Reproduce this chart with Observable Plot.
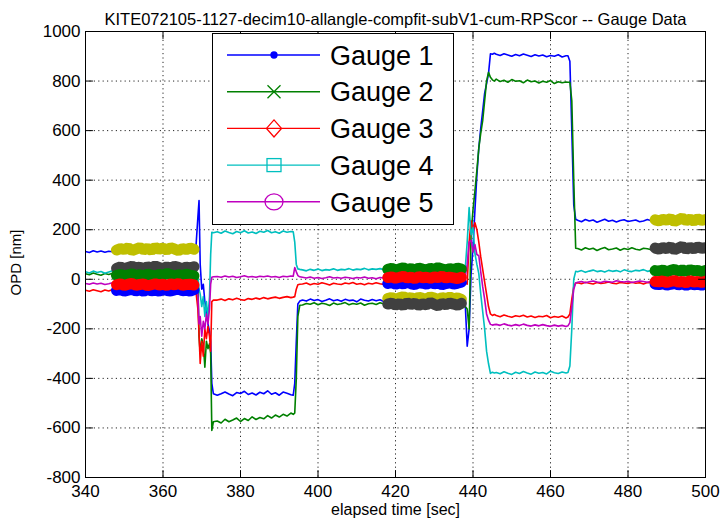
<!DOCTYPE html>
<html><head><meta charset="utf-8">
<script src="https://cdn.jsdelivr.net/npm/d3@7"></script>
<script src="https://cdn.jsdelivr.net/npm/@observablehq/plot@0.6"></script>
<style>body{margin:0;background:#fff;} svg{display:block}</style>
</head><body><div id="chart"></div>
<script>
const title = "KITE072105-1127-decim10-allangle-compfit-subV1-cum-RPScor -- Gauge Data";
const xLabel = "elapsed time [sec]";
const yLabel = "OPD [nm]";
const xTicks = [340,360,380,400,420,440,460,480,500];
const yTicks = [-800,-600,-400,-200,0,200,400,600,800,1000];
const gaugeNames = ["Gauge 1","Gauge 2","Gauge 3","Gauge 4","Gauge 5"];
const gaugeColors = ["#0000ff","#008000","#ff0000","#00bfbf","#bf00bf"];

const time = [
 340,341,342,343,344,345,346,347,348,349,350,351,352,353,354,355,356,357,358,359,360,361,362,363,364,365,366,367,368,
 368.5,369,369.3,369.6,370,370.4,370.8,371.2,371.6,372,372.3,372.6,373,
 374,375,376,377,378,379,380,381,382,383,384,385,386,387,388,389,390,391,392,393,
 393.6,394,394.4,394.8,395.3,
 396,397,398,399,400,401,402,403,404,405,406,407,408,409,410,411,412,413,414,415,416,417,418,419,420,421,422,423,424,425,426,427,428,429,430,431,432,433,434,435,436,437,438,
 438.5,439,439.5,440,440.5,441,441.5,442,442.5,443,443.5,444,444.5,445,445.5,
 446,447,448,449,450,451,452,453,454,455,456,457,458,459,460,461,462,463,464,
 464.5,465,465.5,466,466.5,
 467,468,469,470,471,472,473,474,475,476,477,478,479,480,481,482,483,484,485,486,487,488,489,490,491,492,493,494,495,496,497,498,499,500
];

const gauge1 = [
 112,108,115,110,114,109,113,111,116,112,118,114,120,116,121,117,119,122,118,123,119,121,117,122,118,120,124,119,122,
 130,250,318,60,-40,-20,-90,-120,-180,-210,-250,-420,-462,
 -468,-462,-455,-463,-470,-457,-461,-452,-465,-459,-467,-456,-462,-450,-464,-458,-468,-455,-460,-466,
 -468,-420,-250,-100,-88,
 -84,-88,-80,-86,-82,-90,-85,-79,-87,-83,-89,-81,-86,-84,-91,-80,-85,-88,-82,-87,-83,-90,-84,-86,-80,-88,-85,-82,-89,-84,-87,-81,-86,-90,-83,-85,-88,-82,-86,-84,-86,-90,-100,
 -270,-200,20,130,280,420,530,610,680,750,790,830,910,908,912,
 908,903,910,905,900,907,902,909,904,899,906,901,905,898,903,900,906,897,902,
 902,880,600,300,242,
 238,232,241,235,239,230,236,242,234,238,231,237,240,233,236,239,232,235,241,236,238,234,240,236,242,237,239,235,241,238,236,240,237,239
];
const gauge2 = [
 22,18,25,20,16,23,19,24,21,17,26,20,23,18,24,21,19,25,22,17,23,20,26,19,22,24,18,21,25,
 20,-10,-230,-300,-240,-260,-355,-250,-280,-260,-300,-610,-575,
 -572,-580,-565,-575,-568,-560,-574,-562,-570,-555,-566,-558,-563,-550,-560,-548,-556,-545,-552,-540,
 -545,-540,-400,-150,-105,
 -104,-98,-101,-95,-103,-97,-100,-106,-96,-102,-99,-94,-103,-98,-101,-96,-105,-99,-97,-102,-95,-100,-104,-98,-101,-96,-103,-99,-97,-102,-100,-95,-104,-98,-101,-97,-103,-99,-96,-102,-100,-105,-110,
 -120,-200,180,280,357,440,530,590,640,720,800,835,815,805,800,
 808,798,803,795,806,799,801,793,804,797,800,792,799,795,802,790,797,793,796,
 795,795,720,400,125,
 124,118,127,121,125,116,123,128,119,122,126,117,124,120,127,121,118,125,123,119,124,121,126,118,123,127,120,124,122,126,119,123,125,121
];
const gauge3 = [
 -44,-48,-42,-46,-50,-43,-47,-41,-45,-49,-44,-46,-42,-48,-45,-43,-47,-44,-41,-46,-48,-43,-45,-47,-42,-46,-44,-49,-45,
 -50,-120,-220,-340,-250,-310,-200,-240,-190,-230,-290,-90,-84,
 -84,-80,-86,-79,-83,-77,-82,-85,-78,-81,-76,-80,-74,-79,-75,-72,-77,-73,-70,-74,
 -72,-70,-40,-22,-20,
 -19,-15,-22,-17,-20,-14,-18,-23,-16,-19,-21,-15,-18,-13,-20,-17,-22,-16,-19,-14,-18,-21,-15,-19,-17,-22,-14,-18,-20,-16,-19,-13,-21,-17,-15,-20,-18,-22,-16,-19,-17,-14,-10,
 -20,150,236,190,228,200,150,90,40,-10,-60,-110,-140,-146,-142,
 -146,-151,-144,-149,-153,-147,-150,-145,-152,-148,-154,-149,-151,-146,-155,-150,-153,-148,-156,
 -152,-140,-80,-30,-15,
 -14,-18,-12,-16,-19,-13,-17,-15,-11,-16,-18,-13,-15,-17,-12,-16,-14,-19,-13,-15,-17,-12,-16,-14,-18,-13,-15,-17,-11,-16,-14,-18,-13,-15
];
const gauge4 = [
 30,25,33,27,31,24,29,34,26,30,28,32,25,29,33,27,30,24,31,28,26,32,29,25,30,33,27,29,31,
 30,10,-40,-60,-110,-70,-150,-90,-155,-70,100,190,188,
 192,186,195,189,184,193,188,196,187,191,185,194,190,197,188,192,186,195,190,193,
 192,150,60,42,40,
 38,34,40,36,41,35,39,37,42,36,40,38,43,37,41,39,44,38,42,40,43,39,45,41,38,44,40,42,39,43,41,38,44,40,42,39,43,41,38,42,40,45,44,
 150,289,180,209,104,60,23,-60,-130,-200,-290,-340,-380,-375,-378,
 -376,-381,-373,-379,-384,-375,-380,-372,-378,-383,-374,-379,-376,-382,-371,-377,-380,-374,-378,
 -376,-350,-200,0,32,
 30,35,28,33,37,31,34,29,36,32,35,30,38,33,31,36,34,39,32,35,37,33,36,31,38,34,35,32,37,33,36,34,38,35
];
const gauge5 = [
 -17,-20,-15,-19,-16,-21,-18,-14,-19,-17,-20,-16,-18,-22,-15,-19,-17,-20,-16,-18,-21,-15,-19,-17,-20,-16,-18,-14,-19,
 -20,-60,-180,-150,-230,-170,-200,-140,-180,-120,-20,8,10,
 11,8,13,9,12,7,10,14,9,11,8,12,10,13,9,11,7,12,10,13,
 12,47,30,15,10,
 8,5,9,4,7,3,6,10,5,7,4,8,6,3,7,5,9,4,6,2,7,5,3,8,4,6,2,5,7,3,6,4,8,5,3,7,4,6,2,5,4,8,10,
 60,150,157,110,140,100,95,30,-30,-80,-140,-165,-182,-185,-183,
 -182,-186,-180,-185,-188,-183,-187,-181,-186,-189,-184,-188,-183,-187,-190,-185,-189,-186,-191,
 -188,-175,-110,-40,-15,
 -12,-9,-14,-10,-7,-11,-13,-8,-10,-12,-6,-9,-11,-8,-13,-10,-7,-9,-12,-8,-10,-7,-11,-9,-6,-10,-8,-12,-9,-7,-11,-8,-10,-9
];

// dense marker bands (drawn in order: olive, dark gray, blue, green, red)
const bandColors = ["#bfbf00","#404040","#0000ff","#008000","#ff0000"];
const bandTime1 = [348,349,350,351,352,353,354,355,356,357,358,359,360,361,362,363,364,365,366,367,368];
const band1Olive = [118,124,120,127,116,122,128,119,125,117,129,121,126,118,127,122,116,124,120,126,121];
const band1Dark  = [44,50,42,48,53,45,49,41,51,46,54,47,43,50,45,52,48,42,49,46,51];
const band1Blue  = [-45,-42,-48,-44,-40,-47,-43,-49,-41,-46,-44,-48,-42,-45,-47,-43,-40,-46,-44,-48,-42];
const band1Green = [16,20,13,18,22,15,19,12,21,17,14,20,16,23,18,13,19,15,21,17,14];
const band1Red   = [-22,-18,-25,-20,-17,-24,-21,-19,-26,-22,-18,-23,-20,-25,-19,-22,-17,-24,-21,-20,-23];

const bandTime2 = [418,419,420,421,422,423,424,425,426,427,428,429,430,431,432,433,434,435,436,437];
const band2Olive = [-78,-73,-81,-75,-70,-79,-74,-82,-72,-77,-80,-71,-76,-83,-74,-78,-72,-79,-75,-81];
const band2Dark  = [-100,-96,-104,-98,-106,-95,-102,-97,-105,-99,-103,-94,-101,-107,-98,-103,-96,-100,-105,-97];
const band2Blue  = [-17,-13,-20,-15,-19,-12,-18,-21,-14,-16,-20,-13,-18,-15,-22,-17,-14,-19,-16,-12];
const band2Green = [40,44,37,42,46,39,43,36,45,41,38,44,40,47,42,37,43,39,45,41];
const band2Red   = [7,10,4,8,12,5,9,3,11,6,8,4,10,7,13,5,9,6,3,8];

const bandTime3 = [487,488,489,490,491,492,493,494,495,496,497,498,499,500];
const band3Olive = [240,236,242,239,245,233,240,247,237,243,235,244,238,241];
const band3Dark  = [126,122,128,124,131,119,126,133,121,129,123,130,125,127];
const band3Blue  = [-20,-21,-18,-24,-20,-17,-23,-19,-25,-18,-22,-20,-24,-19];
const band3Green = [35,33,37,30,36,40,32,38,31,39,34,36,30,35];
const band3Red   = [-9,-10,-7,-13,-9,-5,-12,-8,-14,-6,-11,-9,-13,-8];

const gauges = [gauge1, gauge2, gauge3, gauge4, gauge5];
const bandSets = [
  [bandTime1, [band1Olive, band1Dark, band1Blue, band1Green, band1Red]],
  [bandTime2, [band2Olive, band2Dark, band2Blue, band2Green, band2Red]],
  [bandTime3, [band3Olive, band3Dark, band3Blue, band3Green, band3Red]]
];

const xDomain = [xTicks[0], xTicks[xTicks.length - 1]];
const yDomain = [yTicks[0], yTicks[yTicks.length - 1]];
const tickShape = {draw(ctx, l) { ctx.moveTo(0, 0); ctx.lineTo(0, -l); }};
const font = "'Liberation Sans', Arial, Helvetica, sans-serif";

const gaugeMarks = gauges.map((g, k) =>
  Plot.line(time.map((t, i) => [t, g[i]]), {stroke: gaugeColors[k], strokeWidth: 1.6, strokeLinejoin: "round", clip: true}));

const bandMarks = [];
for (let c = 0; c < 5; c++) {
  for (const [bt, vals] of bandSets) {
    bandMarks.push(Plot.line(bt.map((t, i) => [t, vals[c][i]]), {
      stroke: bandColors[c], strokeWidth: 11, strokeLinecap: "round", strokeLinejoin: "bevel", clip: true}));
  }
}

const tickOpts = {length: 7, anchor: "start", shape: tickShape, stroke: "#000", strokeWidth: 1};

const plot = Plot.plot({
  width: 725, height: 525,
  marginLeft: 85, marginRight: 20, marginTop: 31, marginBottom: 48,
  style: {fontFamily: font, background: "#fff", color: "#000", overflow: "visible"},
  x: {domain: xDomain, label: null},
  y: {domain: yDomain, label: null},
  marks: [
    Plot.gridX(xTicks, {stroke: "#000", strokeOpacity: 0.85, strokeDasharray: "1.2,3.2"}),
    Plot.gridY(yTicks, {stroke: "#000", strokeOpacity: 0.85, strokeDasharray: "1.2,3.2"}),
    ...gaugeMarks,
    ...bandMarks,
    Plot.frame({stroke: "#000", strokeWidth: 1}),
    Plot.vector(yTicks, {...tickOpts, x: xDomain[0], y: d => d, rotate: 90}),
    Plot.vector(yTicks, {...tickOpts, x: xDomain[1], y: d => d, rotate: -90}),
    Plot.vector(xTicks, {...tickOpts, x: d => d, y: yDomain[0], rotate: 0}),
    Plot.vector(xTicks, {...tickOpts, x: d => d, y: yDomain[1], rotate: 180}),
    Plot.axisX(xTicks, {tickSize: 0, tickPadding: 7, fontSize: 17, tickFormat: d => String(d), label: null}),
    Plot.axisY(yTicks, {tickSize: 0, tickPadding: 5, fontSize: 17, tickFormat: d => String(d), label: null}),
    Plot.text([xLabel], {text: d => d, frameAnchor: "bottom", dy: 37, fontSize: 16}),
    Plot.text([yLabel], {text: d => d, frameAnchor: "left", textAnchor: "middle", dx: -69, dy: 8, rotate: -90, fontSize: 15}),
    Plot.text([title], {text: d => d, frameAnchor: "top", dy: -18, fontSize: 16.5, ariaLabel: "title"})
  ]
});

const svg = d3.select(plot);
svg.select('g[aria-label="title"] text').attr("textLength", 666).attr("lengthAdjust", "spacing");

// legend box
const lx = 212, ly = 33, lw = 241, lh = 191;
const lg = svg.append("g").attr("font-family", font).attr("text-anchor", "start");
lg.append("rect").attr("x", lx + 0.5).attr("y", ly + 0.5).attr("width", lw).attr("height", lh)
  .attr("fill", "#fff").attr("stroke", "#000");
gaugeNames.forEach((name, i) => {
  const cy = ly + 22 + i * 36.7;
  const col = gaugeColors[i];
  const mx = lx + 62;
  lg.append("line").attr("x1", lx + 15).attr("x2", lx + 108).attr("y1", cy).attr("y2", cy)
    .attr("stroke", col).attr("stroke-width", 1.4);
  const m = lg.append("g").attr("stroke", col).attr("fill", "none").attr("stroke-width", 1.3);
  if (i === 0) m.append("circle").attr("cx", mx).attr("cy", cy).attr("r", 3).attr("fill", col);
  if (i === 1) m.append("path").attr("d", `M${mx-6.5},${cy-6.5}L${mx+6.5},${cy+6.5}M${mx-6.5},${cy+6.5}L${mx+6.5},${cy-6.5}`);
  if (i === 2) m.append("path").attr("d", `M${mx},${cy-8.5}L${mx+7.5},${cy}L${mx},${cy+8.5}L${mx-7.5},${cy}Z`);
  if (i === 3) m.append("rect").attr("x", mx - 7).attr("y", cy - 6.5).attr("width", 14).attr("height", 13);
  if (i === 4) m.append("ellipse").attr("cx", mx).attr("cy", cy).attr("rx", 9).attr("ry", 8);
  lg.append("text").attr("x", lx + 118).attr("y", cy).attr("dy", "0.36em").attr("font-size", 27)
    .attr("text-anchor", "start").attr("fill", "#000").text(name);
});

document.getElementById("chart").appendChild(plot);
</script>
</body></html>
